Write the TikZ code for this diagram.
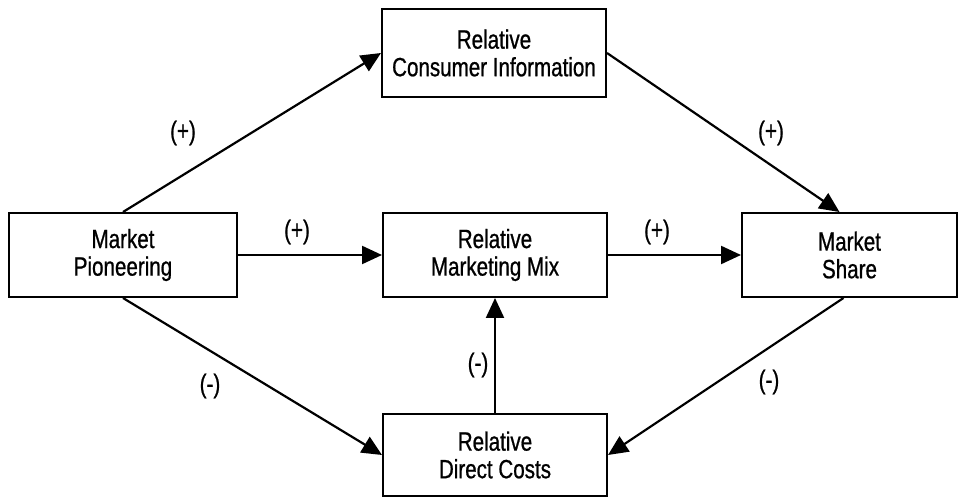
\documentclass[tikz,border=0pt]{standalone}
\usepackage{fontspec}
\setmainfont{Liberation Sans}[FakeStretch=0.78,FakeBold=0.8]
\usetikzlibrary{arrows.meta}
\newcommand\diagfont{\fontsize{13.2}{13.8}\selectfont}
\begin{document}
\begin{tikzpicture}[x=0.5pt,y=-0.5pt,
  box/.style={draw, line width=1pt, minimum width=112pt, minimum height=42pt,
    align=center, inner sep=0pt, font=\diagfont},
  link/.style={line width=1.1pt, -{Triangle[length=10pt,width=9pt]}},
  sign/.style={font=\diagfont, inner sep=0pt}]
\useasboundingbox (0,0) rectangle (959,497);

% boxes
\node[box, minimum height=44pt] (ci) at (494,53) {Relative\\Consumer Information};
\node[box, minimum width=114pt] (mp) at (123,255) {Market\\Pioneering};
\node[box] (mm) at (495,255) {Relative\\Marketing Mix};
\node[box, minimum width=107.5pt] (ms) at (849.5,255) {Market\\Share};
\node[box, minimum height=41pt] (dc) at (495,455) {Relative\\Direct Costs};

% causal links
\draw[link] (mp.north) -- (ci.west);
\draw[link] (ci.east) -- ([xshift=-5pt]ms.north);
\draw[link] (mp.east) -- (mm.west);
\draw[link] (mm.east) -- (ms.west);
\draw[link] (mp.south) -- (dc.west);
\draw[link] ([xshift=-3pt]ms.south) -- (dc.east);
\draw[link] (dc.north) -- (mm.south);

% signs of the effects
\node[sign] (s1) at (183,133) {(+)};
\node[sign] (s2) at (771,133) {(+)};
\node[sign] (s3) at (297,232) {(+)};
\node[sign] (s4) at (657,232) {(+)};
\node[sign] (s5) at (478,365) {(-)};
\node[sign] (s6) at (210,386) {(-)};
\node[sign] (s7) at (769,382) {(-)};
\end{tikzpicture}
\end{document}
